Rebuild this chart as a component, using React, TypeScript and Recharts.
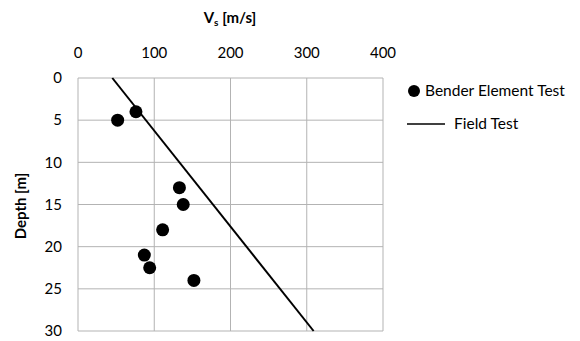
import { ScatterChart, Scatter, XAxis, YAxis, CartesianGrid, Label } from "recharts"

// Bender element test points: shear wave velocity [m/s] vs depth [m]
const benderVs = [76, 52, 133, 138, 111, 87, 94, 152]
const benderDepth = [4, 5, 13, 15, 18, 21, 22.5, 24]

// Field test trend line end points
const fieldVs = [45, 309]
const fieldDepth = [0, 30]

const xTicks = [0, 100, 200, 300, 400]
const yTicks = [0, 5, 10, 15, 20, 25, 30]

const benderData = benderVs.map((vs, i) => ({ vs, depth: benderDepth[i] }))
const fieldData = fieldVs.map((vs, i) => ({ vs, depth: fieldDepth[i] }))

const FONT = "Lato, 'Open Sans', sans-serif"

const renderTitle = () => (
  <text x={230} y={23} textAnchor="middle" fontFamily={FONT} fontSize={15} fontWeight="bold" fill="#000">
    V<tspan fontSize={10} dy={3}>s</tspan>
    <tspan dy={-3}> [m/s]</tspan>
  </text>
)

const renderDepthLabel = () => (
  <text
    x={22}
    y={206}
    transform="rotate(-90 22 206)"
    textAnchor="middle"
    dominantBaseline="middle"
    fontFamily={FONT}
    fontSize={15}
    fontWeight="bold"
    fill="#000"
  >
    Depth [m]
  </text>
)

function LegendBox() {
  return (
    <svg
      width={175}
      height={60}
      style={{ position: "absolute", left: 403, top: 80, fontFamily: FONT, fontSize: 15.5 }}
    >
      <circle cx={11} cy={11} r={6} fill="#000" />
      <text x={22} y={16} fill="#000">Bender Element Test</text>
      <line x1={4} x2={42} y1={44} y2={44} stroke="#000" strokeWidth={1.5} />
      <text x={51} y={49} fill="#000">Field Test</text>
    </svg>
  )
}

export default function App() {
  return (
    <div style={{ position: "absolute", left: 0, top: 0, width: 580, height: 341, background: "#fff" }}>
      <ScatterChart width={580} height={341} margin={{ top: 48, right: 197, bottom: 10, left: 48 }}>
        <CartesianGrid stroke="#b3b3b3" strokeWidth={1} />
        <XAxis
          type="number"
          dataKey="vs"
          orientation="top"
          domain={[0, 400]}
          ticks={xTicks}
          height={30}
          tickLine={false}
          axisLine={false}
          tickMargin={14}
          tick={{ fill: "#000", fontSize: 15, fontFamily: FONT }}
        >
          <Label content={renderTitle} />
        </XAxis>
        <YAxis
          type="number"
          dataKey="depth"
          reversed
          domain={[0, 30]}
          ticks={yTicks}
          width={30}
          tickLine={false}
          axisLine={false}
          tickMargin={10}
          tick={{ fill: "#000", fontSize: 15, fontFamily: FONT }}
        >
          <Label content={renderDepthLabel} />
        </YAxis>
        <Scatter
          name="Field Test"
          data={fieldData}
          line={{ stroke: "#000", strokeWidth: 2 }}
          shape={() => <g />}
          isAnimationActive={false}
        />
        <Scatter
          name="Bender Element Test"
          data={benderData}
          fill="#000"
          shape={(p: any) => <circle cx={p.cx} cy={p.cy} r={6.5} fill="#000" />}
          isAnimationActive={false}
        />
      </ScatterChart>
      <LegendBox />
    </div>
  )
}
